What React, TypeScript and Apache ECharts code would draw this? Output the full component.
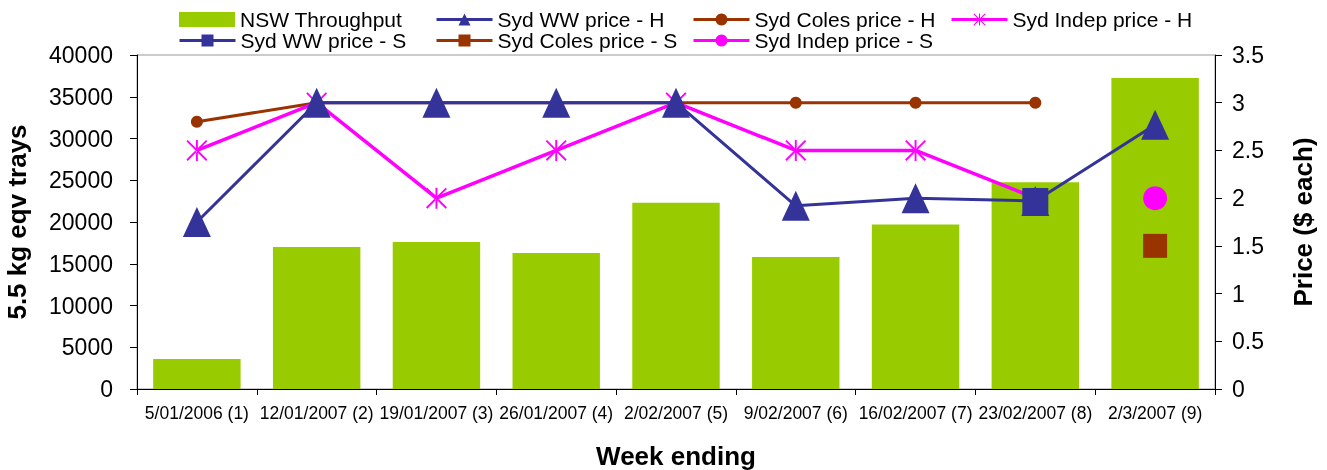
import React, { useEffect, useRef } from "react";
import * as echarts from "echarts";

const categories = [
  "5/01/2006 (1)",
  "12/01/2007 (2)",
  "19/01/2007 (3)",
  "26/01/2007 (4)",
  "2/02/2007 (5)",
  "9/02/2007 (6)",
  "16/02/2007 (7)",
  "23/02/2007 (8)",
  "2/3/2007 (9)",
];

const nswThroughput = [3600, 17000, 17600, 16300, 22300, 15800, 19700, 24750, 37250];
const wwPriceH = [1.75, 3, 3, 3, 3, 1.92, 2.0, 1.97, 2.77];
const colesPriceH = [2.8, 3, 3, 3, 3, 3, 3, 3, null];
const indepPriceH = [2.5, 3, 2, 2.5, 3, 2.5, 2.5, 2.0, null];
const wwPriceS = [null, null, null, null, null, null, null, 1.97, null];
const colesPriceS = [null, null, null, null, null, null, null, null, 1.5];
const indepPriceS = [null, null, null, null, null, null, null, null, 2.0];

const leftTicks = { min: 0, max: 40000, interval: 5000 };
const rightTicks = { min: 0, max: 3.5, interval: 0.5 };

const FONT = "'Liberation Sans', Arial, sans-serif";
const GREEN = "#99CC00";
const NAVY = "#333399";
const BROWN = "#993300";
const MAGENTA = "#FF00FF";

const STAR =
  "path://M10 0L12 0L12 22L10 22Z M0 1.4L1.4 0L22 20.6L20.6 22Z M22 1.4L20.6 0L0 20.6L1.4 22Z";

const legendPos: [string, number, number][] = [
  ["NSW Throughput", 179, 9],
  ["Syd WW price - H", 435, 9],
  ["Syd Coles price - H", 692, 9],
  ["Syd Indep price - H", 950, 9],
  ["Syd WW price - S", 178, 30],
  ["Syd Coles price - S", 435, 30],
  ["Syd Indep price - S", 692, 30],
];

export default function App() {
  const ref = useRef<HTMLDivElement>(null);
  useEffect(() => {
    if (!ref.current) return;
    const chart = echarts.init(ref.current, null, { renderer: "svg" });
    const lineSeries = (
      name: string,
      data: (number | null)[],
      color: string,
      symbol: string,
      symbolSize: number | number[],
      width = 3
    ) => ({
      name,
      type: "line",
      yAxisIndex: 1,
      data,
      symbol,
      symbolSize,
      showSymbol: true,
      connectNulls: false,
      lineStyle: { color, width },
      itemStyle: { color, borderWidth: 0 },
      emphasis: { disabled: true },
    });
    chart.setOption({
      animation: false,
      textStyle: { fontFamily: FONT },
      legend: legendPos.map(([name, left, top]) => ({
        data: [name],
        left,
        top,
        padding: 0,
        itemWidth: 56,
        itemHeight: 15,
        selectedMode: false,
        textStyle: { fontSize: 21, color: "#000", fontFamily: FONT },
        ...(name === "NSW Throughput" ? { icon: "rect" } : { lineStyle: { width: 3 } }),
      })),
      grid: {
        left: 137,
        right: 112,
        top: 55,
        bottom: 81,
        containLabel: false,
        outerBoundsMode: "none",
        show: true,
        borderColor: "#999",
        borderWidth: 1,
        backgroundColor: "transparent",
      },
      xAxis: {
        type: "category",
        data: categories,
        name: "Week ending",
        nameLocation: "middle",
        nameGap: 54,
        nameTextStyle: { fontSize: 26, fontWeight: "bold", color: "#000", fontFamily: FONT },
        axisLine: { lineStyle: { color: "#000", width: 1 } },
        axisTick: { show: true, length: 6, alignWithLabel: false, lineStyle: { color: "#000" } },
        axisLabel: { fontSize: 17.5, color: "#000", margin: 15, interval: 0, fontFamily: FONT },
        splitLine: { show: false },
      },
      yAxis: [
        {
          type: "value",
          min: leftTicks.min,
          max: leftTicks.max,
          interval: leftTicks.interval,
          name: "5.5 kg eqv trays",
          nameLocation: "middle",
          nameRotate: 90,
          nameGap: 107,
          nameTextStyle: { fontSize: 26, fontWeight: "bold", color: "#000", fontFamily: FONT },
          axisLine: { show: true, lineStyle: { color: "#000", width: 1 } },
          axisTick: { show: true, length: 7, lineStyle: { color: "#000" } },
          axisLabel: {
            fontSize: 23,
            color: "#000",
            margin: 24,
            fontFamily: FONT,
            formatter: (v: number) => String(v),
          },
          splitLine: { show: false },
        },
        {
          type: "value",
          position: "right",
          min: rightTicks.min,
          max: rightTicks.max,
          interval: rightTicks.interval,
          name: "Price ($ each)",
          nameLocation: "middle",
          nameRotate: 90,
          nameGap: 75,
          nameTextStyle: { fontSize: 26, fontWeight: "bold", color: "#000", fontFamily: FONT },
          axisLine: { show: true, lineStyle: { color: "#000", width: 1 } },
          axisTick: { show: true, length: 7, lineStyle: { color: "#000" } },
          axisLabel: {
            fontSize: 23,
            color: "#000",
            margin: 17,
            fontFamily: FONT,
            formatter: (v: number) => String(v),
          },
          splitLine: { show: false },
        },
      ],
      series: [
        {
          name: "NSW Throughput",
          type: "bar",
          data: nswThroughput,
          barCategoryGap: "27%",
          itemStyle: { color: GREEN },
          emphasis: { disabled: true },
        },
        lineSeries("Syd Coles price - H", colesPriceH, BROWN, "circle", 12),
        lineSeries("Syd Indep price - H", indepPriceH, MAGENTA, STAR, 21, 3.5),
        lineSeries("Syd WW price - H", wwPriceH, NAVY, "triangle", [28, 30]),
        lineSeries("Syd Coles price - S", colesPriceS, BROWN, "rect", 24),
        lineSeries("Syd Indep price - S", indepPriceS, MAGENTA, "circle", 24),
        lineSeries("Syd WW price - S", wwPriceS, NAVY, "rect", 26),
      ],
    });
    return () => chart.dispose();
  }, []);
  return (
    <div
      ref={ref}
      style={{ position: "fixed", left: 0, top: 0, width: 1327, height: 470 }}
    />
  );
}
